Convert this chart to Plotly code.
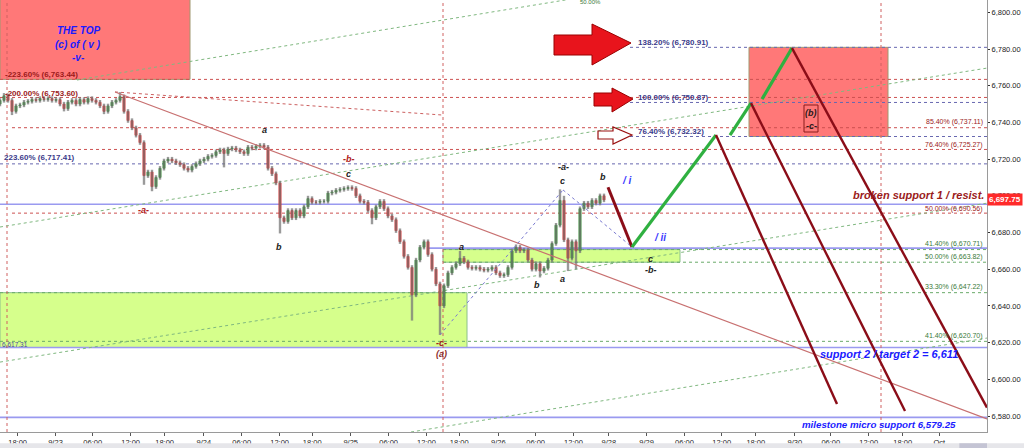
import plotly.graph_objects as go

# ---------------- data ----------------
# bar positions on the chart's time index (one bar every 4 index units)
BAR_X = list(range(0, 608, 4))
CLOSES = [
    6752, 6754.5, 6752, 6746, 6749, 6749.5, 6751, 6751.5, 6752.5, 6752,
    6753, 6752.5, 6753, 6752, 6752.5, 6750, 6747.5, 6751, 6752, 6750,
    6752.5, 6751, 6753, 6752, 6751, 6749, 6746, 6749, 6751, 6752,
    6754, 6746, 6741, 6737, 6733, 6729, 6711, 6713, 6705, 6710,
    6715, 6719, 6720, 6719, 6718, 6717, 6715, 6714, 6716, 6717.5,
    6719, 6720, 6721.5, 6722, 6724, 6725, 6723, 6725.5, 6726, 6725,
    6724, 6723, 6726.5, 6726, 6727, 6727.5, 6726.5, 6715, 6712, 6707,
    6688, 6686, 6692, 6688, 6692, 6689, 6694, 6698.5, 6696.5, 6696.5,
    6697, 6697, 6701.5, 6702, 6703, 6703.5, 6704, 6704.5, 6704, 6700,
    6697, 6696.5, 6692, 6688, 6694, 6697, 6693, 6689, 6687, 6681,
    6675, 6667, 6661, 6646, 6665, 6672, 6675, 6668, 6660, 6652,
    6640, 6651, 6658, 6661, 6663, 6666, 6664, 6661, 6660.5, 6661,
    6660, 6659.5, 6660, 6661, 6658, 6656.5, 6657, 6661, 6670, 6672,
    6670, 6670.5, 6665, 6660, 6663, 6659, 6660.5, 6665, 6674, 6684,
    6697.5, 6676, 6666, 6675, 6670, 6693, 6696, 6694, 6697.5, 6696,
    6700, 6697.75,
]
FIRST_OPEN = 6750
WICK = 1.2
LOW_SPIKES = {12: 6744, 64: 6746, 104: 6744.5, 144: 6706, 152: 6702.5, 224: 6715.5,
              280: 6679.5, 372: 6684.5, 412: 6632, 440: 6624.2, 540: 6655.5,
              568: 6659, 576: 6660}
HIGH_SPIKES = {4: 6756, 120: 6756.5, 308: 6700, 460: 6670, 516: 6673.5, 560: 6703.5, 564: 6700}

LAST_PRICE = 6697.75

X_TICK_POS = [17.6, 55.5, 92.7, 130.6, 164.6, 203.8, 241.7, 279.6, 312.2, 350.7, 388.6,
              426.5, 459.2, 498.4, 535.6, 573.5, 608.8, 646.6, 684.5, 721.7, 755.8,
              794.9, 830.8, 868.7, 902.7, 939.3]
X_TICK_TEXT = ["18:00", "9/23", "06:00", "12:00", "18:00", "9/24", "06:00", "12:00", "18:00",
               "9/25", "06:00", "12:00", "18:00", "9/26", "06:00", "12:00", "9/28", "9/29",
               "06:00", "12:00", "18:00", "9/30", "06:00", "12:00", "18:00", "Oct"]
Y_TICKS = [6580, 6600, 6620, 6640, 6660, 6680, 6700, 6720, 6740, 6760, 6780, 6800]

# fib levels (value, start index)
RED_LEVELS = [(6763.44, 0), (6753.60, 0), (6737.11, 12), (6725.27, 12), (6690.56, 12)]
BLUE_DOT_LEVELS = [(6780.91, 630), (6750.87, 630), (6732.32, 630), (6717.41, 0)]
GREEN_DOT_LEVELS = [(6670.71, 443), (6663.82, 443), (6647.22, 0), (6620.70, 0)]
SUPPORT_LINES = [(6695.4, 0), (6671.5, 428), (6617.31, 0), (6579.25, 0)]
VERT_LINES = [7, 443, 881]

# projected wave path (time index, price)
PROJ_RED1 = [(608, 6704.7), (632, 6672.1)]
PROJ_GREEN = [[(632, 6672.1), (716, 6733.1)], [(730, 6733.1), (751, 6750.5)], [(762, 6752.7), (792, 6780.5)]]
PROJ_RED = [[(716, 6733.1), (837, 6586.6)], [(751, 6750.5), (905, 6582.7)], [(792, 6780.5), (987, 6584.6)]]
ZIGZAG = [(440, 6624.2), (563, 6703.2), (632, 6672.1)]
TRENDLINE = [(115, 6756.6), (987, 6578.4)]
RED_SLOPE_DOT = [(115, 6756.6), (443, 6744.0)]
GREEN_SLOPES = [[(77, 6763.1), (600, 6809.8)], [(0, 6683.0), (987, 6769.6)],
                [(0, 6609.4), (987, 6696.0)], [(411, 6571.3), (987, 6622.5)]]

Y_MIN, Y_MAX = 6571.3, 6806.7
X_MIN, X_MAX = 0, 987


def Y(px):
    # pixel row -> price (for placing decorations)
    return 6800 - (px - 12.3) / 1.835


# ---------------- build ----------------
opens, highs, lows = [], [], []
prev = FIRST_OPEN
for x, c in zip(BAR_X, CLOSES):
    o = prev
    opens.append(o)
    highs.append(HIGH_SPIKES.get(x, max(o, c) + WICK))
    lows.append(LOW_SPIKES.get(x, min(o, c) - WICK))
    prev = c

wx, wy = [], []
for x, h, l in zip(BAR_X, highs, lows):
    wx += [x, x, None]
    wy += [l, h, None]

fig = go.Figure()
fig.add_trace(go.Scatter(x=wx, y=wy, mode="lines", line=dict(color="rgba(120,120,120,0.75)", width=2.4),
                         hoverinfo="skip", showlegend=False))
fig.add_trace(go.Candlestick(
    x=BAR_X, open=opens, high=[max(o, c) for o, c in zip(opens, CLOSES)],
    low=[min(o, c) for o, c in zip(opens, CLOSES)], close=CLOSES,
    increasing=dict(fillcolor="#138a13", line=dict(color="#138a13", width=0.8)),
    decreasing=dict(fillcolor="#ee1111", line=dict(color="#ee1111", width=0.8)),
    whiskerwidth=0, showlegend=False))

shapes = []
RED_BOX = "#ff7878"
GREEN_BOX = "#d6ff8c"
shapes.append(dict(type="rect", x0=0, x1=190, y0=6763.44, y1=6812, fillcolor=RED_BOX,
                   line=dict(color="#a09870", width=1), layer="below"))
shapes.append(dict(type="rect", x0=749, x1=888, y0=6732.32, y1=6780.91, fillcolor=RED_BOX,
                   line=dict(color="#a09870", width=1), layer="below"))
shapes.append(dict(type="rect", x0=0, x1=467, y0=6617.31, y1=6647.22, fillcolor=GREEN_BOX,
                   line=dict(color="#8cc08c", width=1), layer="below"))
shapes.append(dict(type="rect", x0=443, x1=680, y0=6663.82, y1=6670.71, fillcolor=GREEN_BOX,
                   line=dict(color="#8cc08c", width=1), layer="below"))

for v, x0 in RED_LEVELS:
    shapes.append(dict(type="line", x0=x0, x1=X_MAX, y0=v, y1=v,
                       line=dict(color="#cc5050", width=1, dash="dot"), layer="below"))
for v, x0 in BLUE_DOT_LEVELS:
    shapes.append(dict(type="line", x0=x0, x1=X_MAX, y0=v, y1=v,
                       line=dict(color="#6868b0", width=1, dash="dot"), layer="below"))
for v, x0 in GREEN_DOT_LEVELS:
    shapes.append(dict(type="line", x0=x0, x1=X_MAX, y0=v, y1=v,
                       line=dict(color="#6aaa6a", width=1, dash="dot"), layer="below"))
for v, x0 in SUPPORT_LINES:
    shapes.append(dict(type="line", x0=x0, x1=X_MAX, y0=v, y1=v,
                       line=dict(color="#9a9af0", width=1.6), layer="below"))
for x in VERT_LINES:
    shapes.append(dict(type="line", x0=x, x1=x, y0=Y_MIN, y1=Y_MAX,
                       line=dict(color="#d06060", width=1, dash="dot"), layer="below"))
for seg in GREEN_SLOPES:
    shapes.append(dict(type="line", x0=seg[0][0], y0=seg[0][1], x1=seg[1][0], y1=seg[1][1],
                       line=dict(color="#80b880", width=1, dash="dot"), layer="below"))
shapes.append(dict(type="line", x0=RED_SLOPE_DOT[0][0], y0=RED_SLOPE_DOT[0][1],
                   x1=RED_SLOPE_DOT[1][0], y1=RED_SLOPE_DOT[1][1],
                   line=dict(color="#cc6060", width=1, dash="dot"), layer="below"))
shapes.append(dict(type="line", x0=TRENDLINE[0][0], y0=TRENDLINE[0][1], x1=TRENDLINE[1][0], y1=TRENDLINE[1][1],
                   line=dict(color="#c87070", width=1.2)))
for a, b in zip(ZIGZAG[:-1], ZIGZAG[1:]):
    shapes.append(dict(type="line", x0=a[0], y0=a[1], x1=b[0], y1=b[1],
                       line=dict(color="#7a7ad0", width=1, dash="dot")))
shapes.append(dict(type="line", x0=PROJ_RED1[0][0], y0=PROJ_RED1[0][1], x1=PROJ_RED1[1][0], y1=PROJ_RED1[1][1],
                   line=dict(color="#8b0d18", width=3)))
for seg in PROJ_GREEN:
    shapes.append(dict(type="line", x0=seg[0][0], y0=seg[0][1], x1=seg[1][0], y1=seg[1][1],
                       line=dict(color="#2fb040", width=3.2)))
for seg in PROJ_RED:
    shapes.append(dict(type="line", x0=seg[0][0], y0=seg[0][1], x1=seg[1][0], y1=seg[1][1],
                       line=dict(color="#8b0d18", width=2.4)))


def poly(pts):
    return "M " + " L ".join(f"{x},{Y(y)}" for x, y in pts) + " Z"


shapes.append(dict(type="path", path=poly([(554, 35), (592, 35), (592, 24), (631, 43), (592, 65), (592, 55), (554, 55)]),
                   fillcolor="#e8141c", line=dict(color="#9a0000", width=1)))
shapes.append(dict(type="path", path=poly([(594, 93), (612, 93), (612, 88), (633, 99), (612, 112), (612, 106), (594, 106)]),
                   fillcolor="#e8141c", line=dict(color="#9a0000", width=1)))
shapes.append(dict(type="path", path=poly([(598, 131), (613, 131), (613, 127), (632, 135), (613, 144), (613, 139), (598, 139)]),
                   fillcolor="#ffffff", line=dict(color="#9a1010", width=1.2)))
shapes.append(dict(type="rect", x0=804, x1=818, y0=Y(132), y1=Y(105),
                   line=dict(color="#8b1a1a", width=1)))
# scrollbar
shapes.append(dict(type="rect", xref="paper", yref="paper", x0=-0.01, x1=1.04, y0=-0.038, y1=-0.026,
                   fillcolor="#e6e6ea", line=dict(width=0)))
shapes.append(dict(type="rect", xref="paper", yref="paper", x0=0.972, x1=1.0, y0=-0.038, y1=-0.026,
                   fillcolor="#c4c4d4", line=dict(width=0)))

FONT = "Arial, Liberation Sans, sans-serif"
anns = []


def ann(text, x, ypx, color, size, xanchor="center", bold=True, italic=False):
    t = text
    if bold:
        t = f"<b>{t}</b>"
    if italic:
        t = f"<i>{t}</i>"
    anns.append(dict(x=x, y=Y(ypx), xref="x", yref="y", text=t, showarrow=False, xanchor=xanchor,
                     yanchor="middle", font=dict(family=FONT, size=size, color=color)))


BLUE = "#1a1aff"
DRED = "#9b1b1b"
NAVY = "#3a3a8a"
GRN = "#3a7a3a"
ann("THE TOP", 78, 30, BLUE, 10, italic=True)
ann("(c) of ( v )", 78, 44, BLUE, 10, italic=True)
ann("-v-", 78, 57, BLUE, 10, italic=True)
ann("-223.60% (6,763.44)", 3, 74, DRED, 8, "left")
ann("-200.00% (6,753.60)", 3, 93, DRED, 8, "left")
ann("223.60% (6,717.41)", 2, 157, NAVY, 8, "left")
ann("6,617.31", 0, 344, "#4a4aa0", 6.5, "left", bold=False)
ann("-a-", 143, 210, "#b02020", 9, italic=True)
ann("a", 264, 130, "#222", 9, italic=True)
ann("-b-", 349, 159, "#b02020", 9, italic=True)
ann("c", 348, 174, "#222", 9, italic=True)
ann("b", 279, 247, "#222", 9, italic=True)
ann("a", 461, 247, "#222", 9, italic=True)
ann("b", 537, 285, "#222", 9, italic=True)
ann("a", 562, 279, "#222", 9, italic=True)
ann("c", 562, 181, "#222", 9, italic=True)
ann("-a-", 563, 167, "#222", 9, italic=True)
ann("b", 603, 177, "#222", 9, italic=True)
ann("/ i", 627, 180, "#3a3aff", 10, italic=True)
ann("/ ii", 660, 237, "#3a3aff", 10, italic=True)
ann("c", 650, 259, "#222", 9, italic=True)
ann("-b-", 651, 270, "#222", 9, italic=True)
ann("-c-", 441, 343, "#a02020", 9, italic=True)
ann("(a)", 441, 354, "#8b2a2a", 9, italic=True)
ann("(b)", 811, 113, "#2a1a1a", 9, italic=True)
ann("-c-", 811, 126, "#2a1a1a", 9, italic=True)
ann("138.20% (6,780.91)", 636, 42, NAVY, 8, "left")
ann("100.00% (6,750.87)", 636, 97, NAVY, 8, "left")
ann("76.40% (6,732.32)", 636, 131, NAVY, 8, "left")
ann("50.00%", 590, 2, GRN, 6, bold=False)
ann("85.40% (6,737.11)", 985, 122, DRED, 7, "right", bold=False)
ann("76.40% (6,725.27)", 985, 145, DRED, 7, "right", bold=False)
ann("50.00% (6,690.56)", 985, 209, DRED, 7, "right", bold=False)
ann("41.40% (6,670.71)", 985, 244, GRN, 7, "right", bold=False)
ann("50.00% (6,663.82)", 985, 257, GRN, 7, "right", bold=False)
ann("33.30% (6,647.22)", 985, 287, GRN, 7, "right", bold=False)
ann("41.40% (6,620.70)", 985, 336, GRN, 7, "right", bold=False)
ann("broken support 1 / resist.", 986, 195, DRED, 11, "right", italic=True)
ann("support 2 / target 2 = 6,611", 960, 354, BLUE, 11, "right", italic=True)
ann("milestone micro support 6,579.25", 958, 424, BLUE, 9.7, "right", italic=True)

anns.append(dict(x=1.0, y=LAST_PRICE, xref="paper", yref="y", text="<b>6,697.75</b>", showarrow=False,
                 xanchor="left", yanchor="middle", bgcolor="#ff2a2a", borderpad=1,
                 font=dict(family=FONT, size=8, color="white")))

fig.update_layout(
    width=1024, height=448, margin=dict(l=0, r=37, t=0, b=16, autoexpand=False),
    paper_bgcolor="white", plot_bgcolor="white",
    shapes=shapes, annotations=anns, showlegend=False,
    font=dict(family=FONT, size=9, color="#222"),
    xaxis=dict(range=[X_MIN, X_MAX], tickvals=X_TICK_POS, ticktext=X_TICK_TEXT, showgrid=False,
               zeroline=False, ticks="outside", ticklen=3, tickcolor="#555", showline=True,
               linecolor="#9a9a9a", rangeslider=dict(visible=False), tickfont=dict(size=7.5),
               automargin=False),
    yaxis=dict(range=[Y_MIN, Y_MAX], side="right", tickvals=Y_TICKS, tickformat=",.2f", showgrid=False,
               zeroline=False, ticks="outside", ticklen=2, tickcolor="#333", showline=True,
               linecolor="#9a9a9a", tickfont=dict(size=7.5), automargin=False),
)
fig.write_html("out.html", config={"displayModeBar": False},
               post_script="document.body.style.margin='0';document.body.style.padding='0';"
                           "document.body.style.overflow='hidden';")
